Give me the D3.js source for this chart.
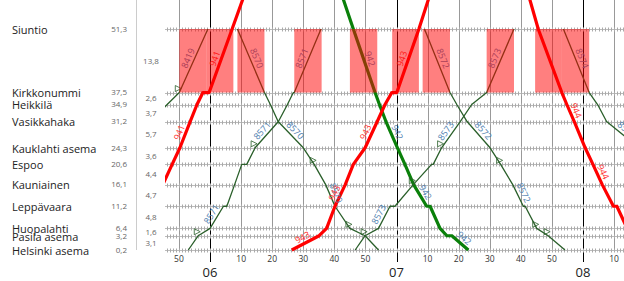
<!DOCTYPE html>
<html>
<head>
<meta charset="utf-8">
<script src="https://cdn.jsdelivr.net/npm/d3@7"></script>
<style>
  body { margin: 0; background: #fff; }
  svg { font-family: "Open Sans", "DejaVu Sans", sans-serif; display: block; }
</style>
</head>
<body>
<svg id="chart" width="624" height="281"></svg>
<script>
// stations from west (top) to Helsinki (bottom)
var stationNames = ["Siuntio", "Kirkkonummi", "Heikkilä", "Vasikkahaka", "Kauklahti asema", "Espoo",
    "Kauniainen", "Leppävaara", "Huopalahti", "Pasila asema", "Helsinki asema"];
var stationKm = [51.3, 37.5, 34.9, 31.2, 24.3, 20.6, 16.1, 11.2, 6.4, 3.2, 0.2];
// running time of each section, Siuntio-Kirkkonummi ... Pasila-Helsinki
var sectionTimes = [13.8, 2.6, 3.7, 5.7, 3.6, 4.4, 4.7, 4.8, 1.6, 3.1];
// next station beyond Siuntio, only used so lines leave the top of the chart
var beyondName = "Inkoo";
var beyondSection = 13;

var timeStart = "05:45:30";
var timeEnd = "08:13:12";

var trainIds = ["8419", "941", "8570", "8571", "942", "943", "8572", "8573", "944", "8574"];
var trainKinds = ["commuter", "longRed", "commuter", "commuter", "longGreen", "longRed",
    "commuter", "commuter", "longRed", "commuter"];

var tt8419 = [["Vasikkahaka", "05:41:00"], ["Heikkilä", "05:46:12"], ["Kirkkonummi", "05:50:06"],
    ["Siuntio", "05:59:18"]];
var tt941 = [["Leppävaara", "05:41:30"], ["Kauniainen", "05:44:48"], ["Espoo", "05:47:48"],
    ["Kauklahti asema", "05:50:18"], ["Vasikkahaka", "05:53:36"], ["Heikkilä", "05:55:48"],
    ["Kirkkonummi", "05:57:42"], ["Kirkkonummi", "05:59:42"], ["Siuntio", "06:07:06"], ["Inkoo", "06:14:00"]];
var tt8570 = [["Siuntio", "06:08:48"], ["Kirkkonummi", "06:17:30"], ["Heikkilä", "06:19:24"],
    ["Vasikkahaka", "06:21:54"], ["Kauklahti asema", "06:30:00"], ["Espoo", "06:33:30"],
    ["Kauniainen", "06:37:12"], ["Leppävaara", "06:40:12"], ["Huopalahti", "06:45:00"],
    ["Pasila asema", "06:49:54"], ["Helsinki asema", "06:54:12"]];
var tt8571 = [["Helsinki asema", "05:53:00"], ["Pasila asema", "05:56:12"], ["Huopalahti", "06:00:00"],
    ["Leppävaara", "06:04:18"], ["Leppävaara", "06:05:24"], ["Kauniainen", "06:07:54"],
    ["Espoo", "06:10:12"], ["Espoo", "06:11:48"], ["Kauklahti asema", "06:14:30"],
    ["Vasikkahaka", "06:22:00"], ["Heikkilä", "06:24:54"], ["Kirkkonummi", "06:26:48"],
    ["Kirkkonummi", "06:27:06"], ["Siuntio", "06:35:42"]];
var tt942 = [["Inkoo", "06:39:36"], ["Siuntio", "06:46:06"], ["Kirkkonummi", "06:53:06"],
    ["Heikkilä", "06:54:30"], ["Vasikkahaka", "06:56:36"], ["Kauklahti asema", "07:00:18"],
    ["Espoo", "07:02:42"], ["Kauniainen", "07:05:30"], ["Leppävaara", "07:09:42"],
    ["Leppävaara", "07:10:48"], ["Huopalahti", "07:14:00"], ["Pasila asema", "07:16:12"],
    ["Pasila asema", "07:17:48"], ["Helsinki asema", "07:23:06"]];
var tt943 = [["Helsinki asema", "06:26:18"], ["Pasila asema", "06:35:06"], ["Huopalahti", "06:37:30"],
    ["Leppävaara", "06:40:12"], ["Kauniainen", "06:43:30"], ["Espoo", "06:46:06"],
    ["Kauklahti asema", "06:49:54"], ["Vasikkahaka", "06:53:48"], ["Heikkilä", "06:56:18"],
    ["Kirkkonummi", "06:58:30"], ["Kirkkonummi", "07:00:06"], ["Siuntio", "07:07:12"], ["Inkoo", "07:13:24"]];
var tt8572 = [["Siuntio", "07:09:00"], ["Kirkkonummi", "07:17:12"], ["Heikkilä", "07:19:24"],
    ["Vasikkahaka", "07:22:42"], ["Kauklahti asema", "07:30:06"], ["Espoo", "07:33:30"],
    ["Kauniainen", "07:37:24"], ["Leppävaara", "07:40:48"], ["Leppävaara", "07:41:24"],
    ["Huopalahti", "07:45:06"], ["Pasila asema", "07:48:48"], ["Helsinki asema", "07:54:12"]];
var tt8573 = [["Helsinki asema", "06:46:42"], ["Pasila asema", "06:49:54"], ["Huopalahti", "06:54:12"],
    ["Leppävaara", "06:57:54"], ["Leppävaara", "06:59:30"], ["Kauniainen", "07:05:24"],
    ["Espoo", "07:11:18"], ["Espoo", "07:11:48"], ["Kauklahti asema", "07:14:30"],
    ["Vasikkahaka", "07:20:30"], ["Heikkilä", "07:24:12"], ["Kirkkonummi", "07:29:00"],
    ["Siuntio", "07:37:48"]];
var tt944 = [["Inkoo", "07:40:06"], ["Siuntio", "07:45:36"], ["Kirkkonummi", "07:53:12"],
    ["Heikkilä", "07:54:48"], ["Vasikkahaka", "07:57:12"], ["Kauklahti asema", "08:00:42"],
    ["Espoo", "08:03:12"], ["Kauniainen", "08:06:12"], ["Leppävaara", "08:09:48"],
    ["Leppävaara", "08:10:54"], ["Huopalahti", "08:14:12"], ["Pasila asema", "08:17:00"],
    ["Helsinki asema", "08:21:00"]];
var tt8574 = [["Siuntio", "07:53:42"], ["Kirkkonummi", "08:02:00"], ["Heikkilä", "08:04:42"],
    ["Vasikkahaka", "08:07:36"], ["Kauklahti asema", "08:18:00"], ["Espoo", "08:22:00"]];
var timetables = [tt8419, tt941, tt8570, tt8571, tt942, tt943, tt8572, tt8573, tt944, tt8574];

// which sections carry the train number (index of upper station of the section)
var labelSections = [[0], [0, 3], [0, 3, 6], [0, 3, 7], [0, 3, 6, 9], [0, 3, 6, 9],
    [0, 3, 6], [0, 3, 7], [2, 5], [0, 3]];
// stations marked with a small stop triangle
var stopMarks = [["Kirkkonummi"], [], ["Espoo", "Huopalahti"], ["Pasila asema", "Kauklahti asema"], [], [],
    ["Espoo", "Huopalahti", "Pasila asema"], ["Pasila asema", "Kauniainen", "Kauklahti asema"], [], []];

// occupations of the single track section Siuntio - Kirkkonummi
var blockTrains = ["8419", "941", "8570", "8571", "942", "943", "8572", "8573", "944", "8574"];
var blockFrom = ["05:50:06", "05:58:54", "06:08:48", "06:27:06", "06:45:00", "06:58:36",
    "07:08:24", "07:29:00", "07:44:36", "07:53:12"];
var blockTo = ["05:58:54", "06:07:30", "06:17:30", "06:35:54", "06:53:48", "07:07:12",
    "07:17:12", "07:37:48", "07:53:12", "08:02:00"];

var kindStyle = {
    commuter:  {color: "#2a5f2a", width: 1.3, label: "#4f80b0"},
    longRed:   {color: "#ff0000", width: 3.2, label: "#ff3030"},
    longGreen: {color: "#0a800a", width: 3.2, label: "#4f80b0"}
};

var svg = d3.select("#chart");
var plotLeft = 165, plotRight = 624, plotTop = 29, plotBottom = 250;

var parseTime = d3.timeParse("%H:%M:%S");

var xScale = d3.scaleTime()
    .domain([parseTime(timeStart), parseTime(timeEnd)])
    .range([plotLeft, plotRight]);

// cumulative running time from Helsinki gives the vertical position
var cumPos = stationNames.map(function (n, i) { return d3.sum(sectionTimes.slice(i)); });
var yScale = d3.scaleLinear()
    .domain([0, cumPos[0]])
    .range([plotBottom, plotTop]);

function posOf(name) {
    if (name == beyondName) return cumPos[0] + beyondSection;
    return cumPos[stationNames.indexOf(name)];
}

svg.append("defs").append("clipPath").attr("id", "plotClip")
    .append("rect").attr("x", plotLeft).attr("y", 0)
    .attr("width", plotRight - plotLeft).attr("height", plotBottom + 2);

// vertical grid: every 10 minutes, hours in black
var tenMin = xScale.ticks(d3.timeMinute.every(10));
var grid = svg.append("g");
grid.selectAll("line.min")
    .data(tenMin.filter(function (d) { return d.getMinutes() != 0; }))
    .enter().append("line")
    .attr("x1", function (d) { return Math.round(xScale(d)) + 0.5; })
    .attr("x2", function (d) { return Math.round(xScale(d)) + 0.5; })
    .attr("y1", 0).attr("y2", plotBottom + 2)
    .attr("stroke", "#999").attr("stroke-width", 1);
grid.selectAll("line.hour")
    .data(tenMin.filter(function (d) { return d.getMinutes() == 0; }))
    .enter().append("line")
    .attr("x1", function (d) { return Math.round(xScale(d)) + 0.5; })
    .attr("x2", function (d) { return Math.round(xScale(d)) + 0.5; })
    .attr("y1", 0).attr("y2", 262)
    .attr("stroke", "#000").attr("stroke-width", 1);

// station lines with minute ticks
var minutes = xScale.ticks(d3.timeMinute.every(1));
var stLines = svg.append("g");
stationNames.forEach(function (name) {
    var y = Math.round(yScale(posOf(name))) + 0.5;
    stLines.append("line")
        .attr("x1", plotLeft).attr("x2", plotRight)
        .attr("y1", y).attr("y2", y)
        .attr("stroke", "#bbb").attr("stroke-width", 1);
    stLines.selectAll(null).data(minutes).enter().append("line")
        .attr("x1", function (d) { return Math.round(xScale(d)) + 0.5; })
        .attr("x2", function (d) { return Math.round(xScale(d)) + 0.5; })
        .attr("y1", y - 2).attr("y2", y + 2)
        .attr("stroke", "#aaa").attr("stroke-width", 1);
});

// trains
var trains = trainIds.map(function (id, i) {
    return {
        id: id,
        kind: trainKinds[i],
        points: timetables[i].map(function (p) {
            return {station: p[0], x: xScale(parseTime(p[1])), y: yScale(posOf(p[0]))};
        }),
        labels: labelSections[i],
        marks: stopMarks[i]
    };
});

var plot = svg.append("g").attr("clip-path", "url(#plotClip)");

var line = d3.line().x(function (d) { return d.x; }).y(function (d) { return d.y; });

plot.selectAll("path.train")
    .data(trains)
    .enter().append("path")
    .attr("class", "train")
    .attr("d", function (d) { return line(d.points); })
    .attr("fill", "none")
    .attr("stroke", function (d) { return kindStyle[d.kind].color; })
    .attr("stroke-width", function (d) { return kindStyle[d.kind].width; })
    .attr("stroke-linejoin", "round");

// train numbers along chosen sections
trains.forEach(function (t) {
    t.labels.forEach(function (sec) {
        var upper = stationNames[sec], lower = stationNames[sec + 1];
        var a = null, b = null;
        for (var k = 0; k < t.points.length - 1; k++) {
            var s0 = t.points[k].station, s1 = t.points[k + 1].station;
            if ((s0 == upper && s1 == lower) || (s0 == lower && s1 == upper)) {
                a = t.points[k]; b = t.points[k + 1];
            }
        }
        if (!a) return;
        var mx = (a.x + b.x) / 2, my = (a.y + b.y) / 2;
        var ang = Math.atan2(b.y - a.y, b.x - a.x) * 180 / Math.PI;
        plot.append("text")
            .attr("transform", "translate(" + mx + "," + my + ") rotate(" + ang + ")")
            .attr("dy", -3)
            .attr("text-anchor", "middle")
            .attr("font-size", 9)
            .attr("fill", kindStyle[t.kind].label)
            .text(t.id);
    });
    t.marks.forEach(function (name) {
        var p = t.points.filter(function (q) { return q.station == name; })[0];
        if (!p) return;
        plot.append("path")
            .attr("transform", "translate(" + (p.x - 1) + "," + (p.y - 4) + ")")
            .attr("d", "M-3,-3L3,0L-3,3Z")
            .attr("fill", "none")
            .attr("stroke", kindStyle[t.kind].color)
            .attr("stroke-width", 0.8);
    });
});

// track occupation blocks
var yS = yScale(posOf("Siuntio")), yK = yScale(posOf("Kirkkonummi"));
plot.selectAll("rect.block")
    .data(blockTrains.map(function (id, i) {
        return {id: id, from: parseTime(blockFrom[i]), to: parseTime(blockTo[i])};
    }))
    .enter().append("rect")
    .attr("class", "block")
    .attr("x", function (d) { return xScale(d.from); })
    .attr("width", function (d) { return xScale(d.to) - xScale(d.from); })
    .attr("y", yS)
    .attr("height", yK - yS)
    .attr("fill", "#ff0000")
    .attr("fill-opacity", 0.5);

// left panel
svg.append("line")
    .attr("x1", 136.5).attr("x2", 136.5).attr("y1", 0).attr("y2", plotBottom)
    .attr("stroke", "#ccc");

var names = svg.append("g");
stationNames.forEach(function (name, i) {
    var y = yScale(posOf(name)) + 1;
    names.append("text")
        .attr("x", 12).attr("y", y).attr("dy", "0.35em")
        .attr("font-size", 11).attr("fill", "#222")
        .text(name);
    names.append("text")
        .attr("x", 127).attr("y", y - 1).attr("dy", "0.35em")
        .attr("text-anchor", "end")
        .attr("font-size", 8).attr("fill", "#666")
        .text(d3.format(".1f")(stationKm[i]).replace(".", ","));
});
sectionTimes.forEach(function (v, i) {
    var y = (yScale(cumPos[i]) + yScale(cumPos[i + 1])) / 2;
    names.append("text")
        .attr("x", 151).attr("y", y).attr("dy", "0.35em")
        .attr("text-anchor", "middle")
        .attr("font-size", 8).attr("fill", "#666")
        .text(d3.format(".1f")(v).replace(".", ","));
});

// time labels
var axis = svg.append("g");
axis.selectAll("text.min")
    .data(tenMin.filter(function (d) { return d.getMinutes() != 0; }))
    .enter().append("text")
    .attr("x", function (d) { return xScale(d); })
    .attr("y", 262)
    .attr("text-anchor", "middle")
    .attr("font-size", 8.5).attr("fill", "#333")
    .text(d3.timeFormat("%M"));
axis.selectAll("text.hour")
    .data(tenMin.filter(function (d) { return d.getMinutes() == 0; }))
    .enter().append("text")
    .attr("x", function (d) { return xScale(d); })
    .attr("y", 277)
    .attr("text-anchor", "middle")
    .attr("font-size", 13).attr("fill", "#222")
    .text(d3.timeFormat("%H"));
</script>
</body>
</html>
